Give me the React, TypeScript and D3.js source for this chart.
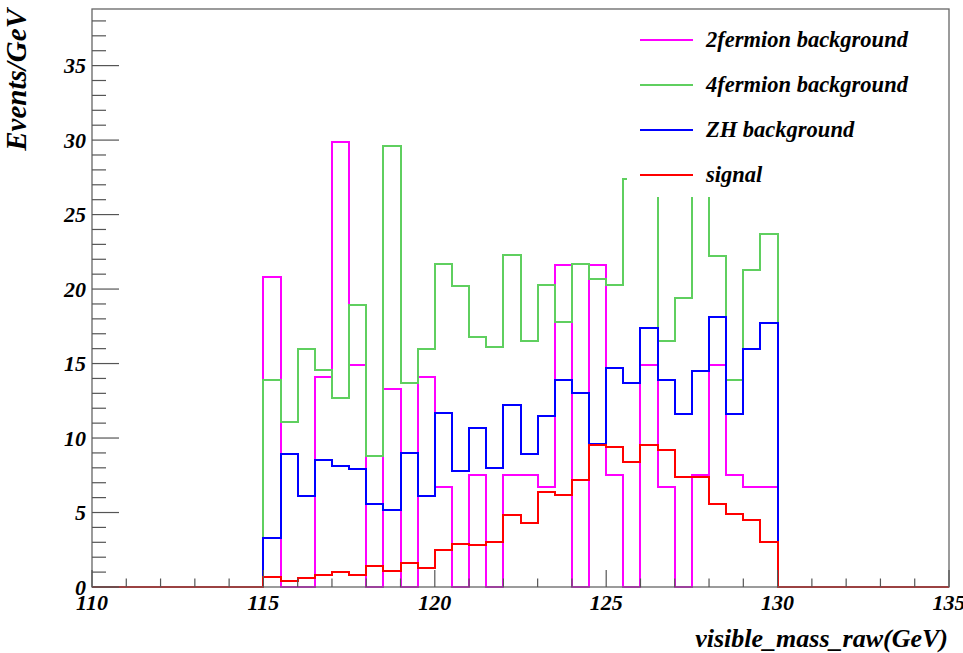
import React, { useEffect, useRef } from 'react';
import * as d3 from 'd3';

// bins of 0.5 GeV from 115 to 130
const binLow = 115;
const binWidth = 0.5;

const twoFermion = [20.8, 0, 0, 14.1, 29.9, 14.9, 0, 13.3, 0, 14.1, 6.7, 0, 7.5, 0, 7.5, 7.5, 6.7, 21.6, 0, 21.6, 7.5, 0, 14.9, 6.7, 0, 7.5, 14.9, 7.5, 6.7, 6.7];
const fourFermion = [13.9, 11.1, 16.0, 14.6, 12.7, 18.9, 8.8, 29.6, 13.7, 16.0, 21.7, 20.2, 16.8, 16.1, 22.3, 16.5, 20.3, 17.8, 21.7, 20.7, 20.3, 27.4, 30.2, 16.5, 19.4, 31.0, 22.2, 13.9, 21.3, 23.7];
const zhBackground = [3.3, 8.9, 6.1, 8.5, 8.1, 7.9, 5.6, 5.2, 9.0, 6.1, 11.7, 7.8, 10.7, 8.0, 12.2, 8.9, 11.5, 13.9, 13.0, 9.6, 14.7, 13.7, 17.4, 13.9, 11.6, 14.5, 18.1, 11.6, 16.0, 17.7];
const signal = [0.7, 0.4, 0.6, 0.8, 1.0, 0.8, 1.4, 1.1, 1.6, 1.3, 2.5, 2.9, 2.8, 3.0, 4.8, 4.3, 6.4, 6.2, 7.2, 9.5, 9.4, 8.4, 9.5, 9.2, 7.4, 7.4, 5.6, 4.9, 4.5, 3.0];

const seriesNames = ['2fermion background', '4fermion background', 'ZH background', 'signal'];
const seriesColors = ['#ff00ff', '#5fcf5f', '#0000ff', '#ff0000'];
const seriesValues = [twoFermion, fourFermion, zhBackground, signal];

const xTicks = [110, 115, 120, 125, 130, 135];
const yTicks = [0, 5, 10, 15, 20, 25, 30, 35];

const App = () => {
  const ref = useRef<SVGSVGElement>(null);

  useEffect(() => {
    const svg = d3.select(ref.current);
    svg.selectAll('*').remove();

    const left = 92, right = 949, top = 9, bottom = 587;
    const font = "'Liberation Serif', 'Times New Roman', serif";

    const x = d3.scaleLinear().domain([110, 135]).range([left, right]);
    const y = d3.scaleLinear().domain([0, 38.8]).range([bottom, top]);

    svg.append('rect')
      .attr('width', 963).attr('height', 653).attr('fill', '#fff');

    // histograms, drawn as steps over the whole axis range
    const line = d3.line<[number, number]>()
      .x(d => x(d[0]))
      .y(d => y(d[1]))
      .curve(d3.curveStepAfter);

    seriesValues.forEach((vals, i) => {
      const pts: [number, number][] = [[110, 0]];
      vals.forEach((v, j) => pts.push([binLow + j * binWidth, v]));
      pts.push([binLow + vals.length * binWidth, 0]);
      pts.push([135, 0]);
      svg.append('path')
        .attr('d', line(pts))
        .attr('fill', 'none')
        .attr('stroke', seriesColors[i])
        .attr('stroke-width', 2)
        .attr('shape-rendering', 'crispEdges');
    });

    // frame
    svg.append('rect')
      .attr('x', left).attr('y', top)
      .attr('width', right - left).attr('height', bottom - top)
      .attr('fill', 'none').attr('stroke', '#666').attr('stroke-width', 1.3);

    // x ticks
    d3.range(110, 135.01, 1).forEach(t => {
      const major = t % 5 === 0;
      svg.append('line')
        .attr('x1', x(t)).attr('x2', x(t))
        .attr('y1', bottom).attr('y2', bottom - (major ? 17 : 8.5))
        .attr('stroke', '#555').attr('stroke-width', 1.2);
    });
    svg.append('g').selectAll('text')
      .data(xTicks)
      .enter()
      .append('text')
      .attr('x', d => x(d))
      .attr('y', 610)
      .attr('text-anchor', 'middle')
      .attr('font-family', font)
      .attr('font-weight', 'bold')
      .attr('font-style', 'italic')
      .attr('font-size', 22)
      .text(d => d);

    // y ticks
    d3.range(0, 38.01, 1).forEach(t => {
      const major = t % 5 === 0;
      svg.append('line')
        .attr('x1', left).attr('x2', left + (major ? 27 : 14))
        .attr('y1', y(t)).attr('y2', y(t))
        .attr('stroke', '#555').attr('stroke-width', 1.2);
    });
    svg.append('g').selectAll('text')
      .data(yTicks)
      .enter()
      .append('text')
      .attr('x', 86)
      .attr('y', d => y(d))
      .attr('dy', '0.35em')
      .attr('text-anchor', 'end')
      .attr('font-family', font)
      .attr('font-weight', 'bold')
      .attr('font-style', 'italic')
      .attr('font-size', 22)
      .text(d => d);

    // axis titles
    svg.append('text')
      .attr('x', 948).attr('y', 647)
      .attr('text-anchor', 'end')
      .attr('font-family', font)
      .attr('font-weight', 'bold')
      .attr('font-style', 'italic')
      .attr('font-size', 26)
      .text('visible_mass_raw(GeV)');

    svg.append('text')
      .attr('transform', 'translate(26,9) rotate(-90)')
      .attr('text-anchor', 'end')
      .attr('font-family', font)
      .attr('font-weight', 'bold')
      .attr('font-style', 'italic')
      .attr('font-size', 29)
      .text('Events/GeV');

    // legend
    svg.append('rect')
      .attr('x', 627).attr('y', 14)
      .attr('width', 310).attr('height', 183)
      .attr('fill', '#fff');
    const legY = [40, 85, 130, 175];
    seriesNames.forEach((name, i) => {
      svg.append('line')
        .attr('x1', 640).attr('x2', 693)
        .attr('y1', legY[i]).attr('y2', legY[i])
        .attr('stroke', seriesColors[i]).attr('stroke-width', 2);
      svg.append('text')
        .attr('x', 706).attr('y', legY[i] + 7)
        .attr('font-family', font)
        .attr('font-weight', 'bold')
        .attr('font-style', 'italic')
        .attr('font-size', 22.5)
        .text(name);
    });
  }, []);

  return (
    <svg ref={ref} width={963} height={653}
      style={{ position: 'absolute', left: 0, top: 0, display: 'block' }} />
  );
};

export default App;
